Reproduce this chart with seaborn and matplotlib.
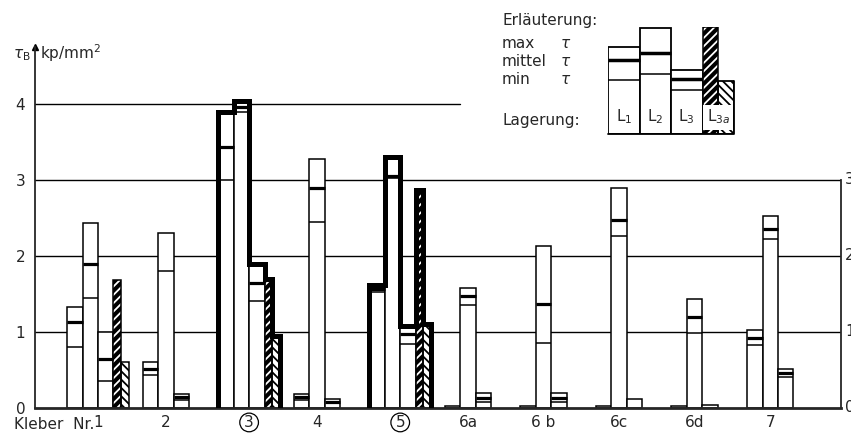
import numpy as np
import pandas as pd
import seaborn as sns
import matplotlib.pyplot as plt
from matplotlib.patches import Rectangle

nan = np.nan

# Kleber groups and bearing types
groups = ["1", "2", "3", "4", "5", "6a", "6 b", "6c", "6d", "7"]
lagerung = ["L1", "L2", "L3", "L3a"]

# shear strength tau_B in kp/mm^2 (max / mittel / min)
l1_max = [1.33, 0.61, 3.90, 0.19, 1.62, 0.02, 0.02, 0.03, 0.03, 1.03]
l1_mid = [1.13, 0.51, 3.43, 0.15, 1.57, nan, nan, nan, nan, 0.92]
l1_min = [0.80, 0.44, 3.00, 0.11, 1.52, nan, nan, nan, nan, 0.83]
l2_max = [2.43, 2.30, 4.04, 3.28, 3.30, 1.58, 2.13, 2.90, 1.44, 2.52]
l2_mid = [1.90, nan, 3.96, 2.90, 3.05, 1.47, 1.37, 2.48, 1.20, 2.35]
l2_min = [1.45, 1.80, 3.89, 2.45, 3.02, 1.36, 0.86, 2.26, 0.99, 2.22]
l3_max = [1.00, 0.19, 1.89, 0.12, 1.08, 0.20, 0.20, 0.12, 0.04, 0.51]
l3_mid = [0.64, 0.14, 1.65, 0.08, 0.98, 0.13, 0.13, nan, nan, 0.46]
l3_min = [0.36, 0.10, 1.41, nan, 0.84, 0.08, 0.08, nan, nan, 0.41]
l3a_left = [1.69, nan, 1.70, nan, 2.87, nan, nan, nan, nan, nan]
l3a_right = [0.60, nan, 0.95, nan, 1.10, nan, nan, nan, nan, nan]
circled = ["3", "5"]

# legend sketch (schematic heights)
leg_max = [87, 106, 64]
leg_mid = [74, 81, 55]
leg_min = [54, 60, 44]
leg_3a = [107, 53]

maxs = {"L1": l1_max, "L2": l2_max, "L3": l3_max, "L3a": l3a_left}
mids = {"L1": l1_mid, "L2": l2_mid, "L3": l3_mid}
mins = {"L1": l1_min, "L2": l2_min, "L3": l3_min}

rows = []
for lg in lagerung:
    for g, v in zip(groups, maxs[lg]):
        if not np.isnan(v):
            rows.append({"Kleber": g, "Lagerung": lg, "tau": v})
df = pd.DataFrame(rows)

sns.set_style("white")
plt.rcParams["font.family"] = ["DejaVu Sans"]
plt.rcParams["hatch.linewidth"] = 1.3

fig = plt.figure(figsize=(8.51, 4.34), dpi=100)
ax = fig.add_axes([35 / 851, 26 / 434, 806 / 851, 361 / 434])

W = 0.82
sns.barplot(data=df, x="Kleber", y="tau", hue="Lagerung", order=groups,
            hue_order=lagerung, width=W, dodge=True, palette=["white"] * 4,
            saturation=1, edgecolor="black", linewidth=1.1, errorbar=None,
            legend=False, ax=ax, zorder=2)


def dark_hatch(axis, x, w, h, z=2):
    # dark fill with light diagonal stripes, black frame
    axis.add_patch(Rectangle((x, 0), w, h, facecolor="black", edgecolor="white",
                             lw=0, hatch="////", zorder=z))
    axis.add_patch(Rectangle((x, 0), w, h, facecolor="none", edgecolor="black",
                             lw=1.1, zorder=z + 0.1))


slot = W / 4
outline = {i: [] for i, g in enumerate(groups) if g in circled}
for p in list(ax.patches):
    w = p.get_width()
    x0 = p.get_x()
    c = x0 + w / 2
    gi = int(round(c))
    si = int(round((c - gi + 1.5 * slot) / slot))
    lg = lagerung[si]
    h = p.get_height()
    if lg == "L3a":
        p.set_visible(False)
        dark_hatch(ax, x0, w / 2, h)
        hr = l3a_right[gi]
        ax.add_patch(Rectangle((x0 + w / 2, 0), w / 2, hr, facecolor="white",
                               edgecolor="black", lw=1.1, hatch="\\\\\\\\", zorder=2))
        if gi in outline:
            outline[gi] += [(x0, x0 + w / 2, h), (x0 + w / 2, x0 + w, hr)]
    else:
        if not np.isnan(mids[lg][gi]):
            ax.hlines(mids[lg][gi], x0, x0 + w, color="black", lw=2.3, zorder=3)
        if not np.isnan(mins[lg][gi]):
            ax.hlines(mins[lg][gi], x0, x0 + w, color="black", lw=1.1, zorder=3)
        if gi in outline:
            outline[gi].append((x0, x0 + w, h))

# thick contour around the marked adhesives
for gi, rects in outline.items():
    rects.sort()
    xs, ys = [rects[0][0]], [0]
    for a, b, h in rects:
        xs += [a, b]
        ys += [h, h]
    xs.append(rects[-1][1])
    ys.append(0)
    ax.plot(xs, ys, color="black", lw=3.6, solid_joinstyle="miter", zorder=4)

ax.set_xlim(-0.834, 9.834)
ax.set_ylim(0, 4.75)
for v in [1, 2, 3]:
    ax.axhline(v, color="black", lw=1.0, zorder=0)
ax.axhline(4, xmax=0.527, color="black", lw=1.0, zorder=0)

fs = 11
has_3a = [not np.isnan(v) for v in l3a_left]
ticks = [i if has_3a[i] else i - slot / 2 for i in range(len(groups))]
ax.set_xticks(ticks, groups)
ax.tick_params(axis="both", length=0, labelsize=fs)
ax.tick_params(axis="x", pad=5)
ax.tick_params(axis="y", pad=7)
for lbl in ax.get_xticklabels():
    if lbl.get_text() in circled:
        lbl.set_bbox(dict(boxstyle="circle,pad=0.12", fc="none", ec="black", lw=0.9))
ax.set_yticks([0, 1, 2, 3, 4], ["0", "1", "2", "3", "4"])
ax.set_xlabel("")
ax.set_ylabel("")

ax.text(-0.05, -0.045, "Kleber  Nr.", transform=ax.get_xaxis_transform(),
        ha="right", va="center", fontsize=fs)

ax.spines["top"].set_visible(False)
ax.spines["left"].set_linewidth(1.3)
ax.spines["bottom"].set_linewidth(2.0)
ax.spines["right"].set_linewidth(1.3)
ax.spines["right"].set_bounds(0, 3)
for v in [0, 1, 2, 3]:
    ax.text(1.005, v, str(v), transform=ax.get_yaxis_transform(), ha="left",
            va="center", fontsize=fs, clip_on=False)

ax.plot([0], [1], marker="^", color="black", ms=5, transform=ax.transAxes,
        clip_on=False)
fig.text(13 / 851, 1 - 55 / 434, r"$\tau_\mathrm{B}$", fontsize=fs, va="center")
fig.text(40 / 851, 1 - 53 / 434, r"kp/mm$^2$", fontsize=fs, va="center")

# explanation box
fig.text(502 / 851, 1 - 20 / 434, "Erläuterung:", fontsize=fs, va="center")
for lab, yy in [("max", 44), ("mittel", 62), ("min", 80)]:
    fig.text(502 / 851, 1 - yy / 434, lab, fontsize=fs, va="center")
    fig.text(560 / 851, 1 - yy / 434, r"$\tau$", fontsize=fs, va="center")
fig.text(502 / 851, 1 - 120 / 434, "Lagerung:", fontsize=fs, va="center")

lax = fig.add_axes([608 / 851, 1 - 134 / 434, 126 / 851, 107 / 434])
lax.set_xlim(-0.5, 3.5)
lax.set_ylim(0, 107)
lax.axis("off")
lax.bar(range(3), leg_max, width=1, color="white", edgecolor="black", lw=1.3)
for i in range(3):
    lax.hlines(leg_mid[i], i - 0.5, i + 0.5, color="black", lw=2.5)
    lax.hlines(leg_min[i], i - 0.5, i + 0.5, color="black", lw=1.1)
dark_hatch(lax, 2.5, 0.5, leg_3a[0])
lax.bar(3.25, leg_3a[1], width=0.5, color="white", edgecolor="black",
        lw=1.3, hatch="\\\\\\\\", zorder=2)
lax.bar(3, 25, bottom=4, width=0.96, color="white", edgecolor="none", zorder=3)
lax.plot([-0.5, 3.5, 3.5], [0, 0, 53], color="black", lw=1.3, clip_on=False,
         zorder=4)
for i, lab in enumerate([r"L$_1$", r"L$_2$", r"L$_3$", r"L$_{3a}$"]):
    lax.text(i, 17, lab, ha="center", va="center", fontsize=fs, zorder=5)

fig.savefig("out.png", dpi=100)
